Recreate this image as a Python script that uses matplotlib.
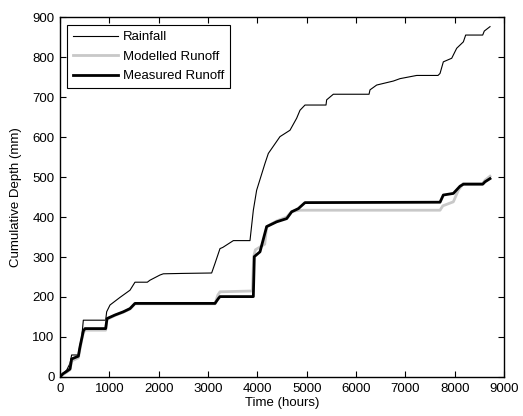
"""
Cumulative rainfall and runoff depth over one year
"""

import matplotlib.pyplot as plt

plt.rcParams["font.family"] = ["Liberation Sans", "DejaVu Sans"]
plt.rcParams["font.size"] = 9.5

# Rainfall (hours, mm)
rain_t = [0, 60, 135, 203, 236, 372, 405, 439, 473, 926, 946, 1014, 1216, 1419,
          1520, 1770, 1824, 2027, 2095, 2500, 3074, 3142, 3243, 3300, 3514, 3851,
          3919, 3986, 4155, 4223, 4459, 4662, 4797, 4865, 4966, 5392, 5405, 5540,
          6264, 6284, 6419, 6757, 6892, 7230, 7662, 7703, 7770, 7940, 8041, 8176,
          8223, 8568, 8600, 8716]
rain_d = [0, 8, 17, 34, 55, 55, 80, 97, 142, 142, 163, 180, 199, 217,
          237, 237, 242, 255, 258, 259, 260, 284, 321, 324, 341, 341,
          417, 467, 534, 559, 601, 617, 647, 667, 680, 680, 693, 707,
          707, 718, 730, 740, 746, 754, 754, 759, 788, 797, 822, 838,
          855, 855, 865, 876]

# Modelled runoff (hours, mm)
model_t = [0, 60, 135, 203, 236, 372, 405, 439, 473, 507, 926, 953, 1115, 1284,
           1419, 1520, 3142, 3200, 3243, 3900, 3925, 3960, 4054, 4150, 4189, 4392,
           4595, 4696, 4865, 7703, 7760, 7973, 8074, 8176, 8568, 8615, 8716]
model_d = [0, 6, 12, 18, 40, 48, 70, 92, 110, 117, 117, 144, 154, 162,
           170, 183, 183, 205, 213, 215, 300, 318, 325, 332, 376, 390,
           400, 414, 417, 417, 428, 438, 467, 484, 484, 492, 502]

# Measured runoff (hours, mm)
meas_t = [0, 60, 135, 203, 236, 372, 405, 439, 473, 507, 926, 953, 1115, 1284,
          1419, 1520, 3142, 3209, 3243, 3919, 3939, 4054, 4189, 4392, 4595, 4696,
          4831, 4966, 7703, 7770, 7973, 8108, 8176, 8568, 8615, 8716]
meas_d = [0, 8, 14, 20, 45, 52, 75, 95, 115, 121, 121, 146, 155, 163,
          171, 184, 184, 196, 201, 201, 301, 313, 376, 388, 396, 413,
          421, 436, 437, 455, 459, 477, 482, 482, 488, 496]

fig = plt.figure(figsize=(5.23, 4.16), dpi=100)
ax = fig.add_axes([0.1147, 0.0938, 0.849, 0.8652])

ax.plot(rain_t, rain_d, color="black", linewidth=0.8, label="Rainfall")
ax.plot(model_t, model_d, color="#c8c8c8", linewidth=2.0, label="Modelled Runoff")
ax.plot(meas_t, meas_d, color="black", linewidth=2.0, label="Measured Runoff")

ax.set_xlim(0, 9000)
ax.set_ylim(0, 900)
ax.set_xticks(range(0, 9001, 1000))
ax.set_yticks(range(0, 901, 100))
ax.tick_params(direction="in", top=True, right=True, length=4, width=0.8, pad=4)
for s in ax.spines.values():
    s.set_linewidth(1.0)

ax.set_xlabel("Time (hours)", labelpad=2)
ax.set_ylabel("Cumulative Depth (mm)", labelpad=7)

leg = ax.legend(loc="upper left", bbox_to_anchor=(0.016, 0.978), borderaxespad=0,
                fancybox=False, framealpha=1, edgecolor="black",
                handlelength=3.4, handletextpad=0.4, labelspacing=0.55, borderpad=0.45)
leg.get_frame().set_linewidth(0.8)

fig.savefig("out.png", dpi=100)
